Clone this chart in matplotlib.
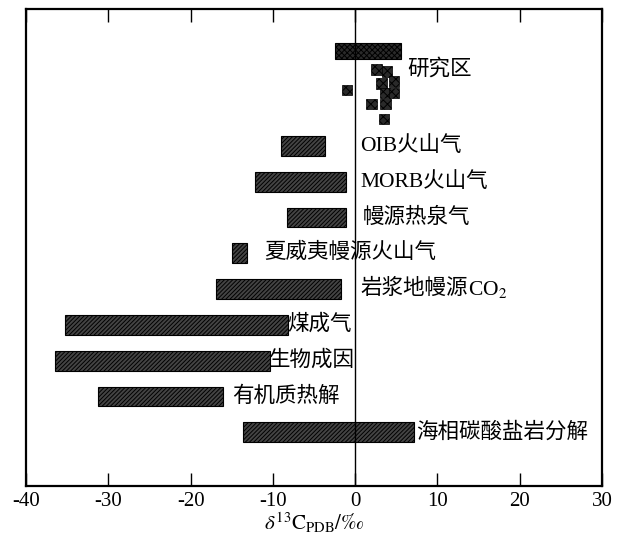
import numpy as np
import matplotlib
matplotlib.use('Agg')
import matplotlib.pyplot as plt

plt.rcParams['font.family'] = ['Liberation Serif', 'Noto Sans CJK SC']
plt.rcParams['mathtext.fontset'] = 'stix'
plt.rcParams['hatch.linewidth'] = 0.7

# 各类气体 δ13C 范围 (‰)
names = ['OIB火山气', 'MORB火山气', '幔源热泉气', '夏威夷幔源火山气', '岩浆地幔源',
         '煤成气', '生物成因', '有机质热解', '海相碳酸盐岩分解']
suffix = ['', '', '', '', 'CO$_2$', '', '', '', '']
lo = [-9.0, -12.2, -8.3, -15.0, -16.9, -35.3, -36.5, -31.3, -13.6]
hi = [-3.7, -1.1, -1.1, -13.1, -1.7, -8.2, -10.3, -16.0, 7.1]

# 研究区
study_name = '研究区'
study_lo, study_hi = -2.4, 5.6
study_x = [2.6, 3.9, 3.2, 4.7, -1.0, 3.6, 4.7, 2.0, 3.7, 3.5]
study_y = [-2.13, -2.08, -1.74, -1.80, -1.56, -1.47, -1.47, -1.17, -1.17, -0.75]

rows = np.arange(len(names))
label_x = [0.6, 0.6, 0.9, -11.0, 0.6, -8.3, -10.5, -14.9, 7.4]
fam = ['Liberation Serif', 'Noto Sans CJK SC']

fig = plt.figure(figsize=(6.27, 5.37), dpi=100)
ax = fig.add_axes([0.0415, 0.095, 0.9185, 0.888])

ax.barh(rows, np.array(hi) - np.array(lo), left=lo, height=0.55,
        color='#444444', edgecolor='black', hatch='////////', linewidth=0.8)
ax.barh([-2.66], [study_hi - study_lo], left=study_lo, height=0.45,
        color='#2a2a2a', edgecolor='black', hatch='xxxxxx', linewidth=0.8)
ax.scatter(study_x, study_y, marker='s', s=55, color='#2a2a2a',
           edgecolor='black', linewidth=0.5, hatch='xxxx', zorder=3)

ax.axvline(0, color='black', linewidth=1.0, zorder=1)

for i, name in enumerate(names):
    t = ax.text(label_x[i], rows[i], name, fontsize=15.5, va='center', ha='left',
                family=fam)
    if suffix[i]:
        ax.annotate(suffix[i], xy=(1, 0.5), xycoords=t, va='center', ha='left',
                    fontsize=15.5, family=fam)
ax.text(6.3, -2.14, study_name, fontsize=15.5, va='center', ha='left', family=fam)

ax.set_xlim(-40, 30)
ax.set_ylim(9.5, -3.82)
ax.set_xticks([-40, -30, -20, -10, 0, 10, 20, 30])
ax.set_xticklabels(['-40', '-30', '-20', '-10', '0', '10', '20', '30'])
ax.set_yticks([])
ax.tick_params(axis='x', direction='in', top=True, length=9.5, width=1,
               labelsize=15, pad=4)
for s in ax.spines.values():
    s.set_linewidth(1.6)
ax.set_xlabel(r'$\delta^{13}\mathrm{C}_{\mathrm{PDB}}/‰$', fontsize=15, labelpad=0)

fig.savefig('out.png', dpi=100)
